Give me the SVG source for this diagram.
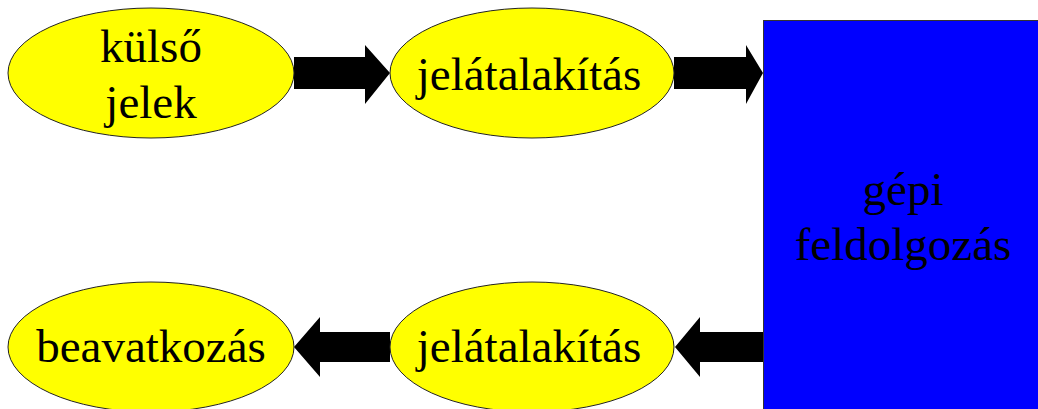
<svg xmlns="http://www.w3.org/2000/svg" width="1038" height="409" viewBox="0 0 1038 409">
  <style>
    .oval { fill: #FFFF00; stroke: #222; stroke-width: 1; }
    .box { fill: #0000FF; stroke: #333; stroke-width: 1; }
    .lbl { font-family: "Liberation Serif", "Times New Roman", serif; font-size: 47px; fill: #000; text-anchor: middle; }
    .arrow { fill: #000; }
  </style>
  <rect width="1038" height="409" fill="#FFFFFF"/>

  <!-- connectors: thick block arrows -->
  <g id="connectors">
    <polygon class="arrow" points="294,57 365,57 365,45 390,73 365,104 365,89 294,89"/>
    <polygon class="arrow" points="674,57 746,57 746,45 763,73 746,104 746,89 674,89"/>
    <polygon class="arrow" points="763,332 700,332 700,317 675,347 700,377 700,362 763,362"/>
    <polygon class="arrow" points="390,332 320,332 320,317 294,347 320,377 320,362 390,362"/>
  </g>

  <g id="kulso-jelek">
    <ellipse class="oval" cx="151" cy="73" rx="143" ry="65"/>
    <text class="lbl" x="151" y="62">külső</text>
    <text class="lbl" x="151" y="118">jelek</text>
  </g>

  <g id="jelatalakitas-be">
    <ellipse class="oval" cx="532" cy="73" rx="142" ry="65"/>
    <text class="lbl" x="529" y="90">jelátalakítás</text>
  </g>

  <g id="gepi-feldolgozas">
    <rect class="box" x="763.5" y="20.5" width="280" height="395"/>
    <text class="lbl" x="903" y="205">gépi</text>
    <text class="lbl" x="903" y="260">feldolgozás</text>
  </g>

  <g id="jelatalakitas-ki">
    <ellipse class="oval" cx="532" cy="347" rx="142" ry="65"/>
    <text class="lbl" x="529" y="362">jelátalakítás</text>
  </g>

  <g id="beavatkozas">
    <ellipse class="oval" cx="151" cy="347" rx="143" ry="65"/>
    <text class="lbl" x="151" y="362">beavatkozás</text>
  </g>
</svg>
